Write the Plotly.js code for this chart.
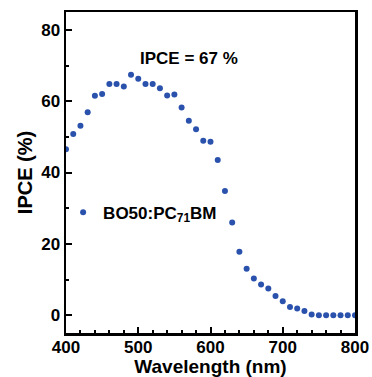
<!DOCTYPE html>
<html>
<head>
<meta charset="utf-8">
<script src="https://cdn.plot.ly/plotly-3.0.1.min.js"></script>
<style>
html,body{margin:0;padding:0;background:#fff;}
#chart{width:372px;height:377px;}
</style>
</head>
<body>
<div id="chart"></div>
<script>
var wavelength = [400,410,420,430,440,450,460,470,480,490,500,510,520,530,540,550,560,570,580,590,600,610,620,630,640,650,660,670,680,690,700,710,720,730,740,750,760,770,780,790,800];
var ipce = [46.5,50.8,53.1,56.9,61.5,62.0,64.8,64.8,64.1,67.4,66.3,64.8,64.8,63.6,61.6,61.9,58.2,54.5,52.1,48.9,48.6,43.5,34.8,26.0,17.8,13.0,10.3,8.6,7.5,5.4,3.9,2.3,1.9,1.2,0.2,0,0,0,0,0,0];
var seriesName = 'BO50:PC<sub>71</sub>BM';
var xTicks = [400,500,600,700,800];
var yTicks = [0,20,40,60,80];
var peakLabel = 'IPCE = 67 %';

var fontFam = '"Liberation Sans", Arial, Helvetica, sans-serif';

var trace = {
  x: wavelength, y: ipce, type: 'scatter', mode: 'markers', name: seriesName,
  marker: {color: '#2a52ad', size: 6}, showlegend: true
};

var axisCommon = {
  showline: true, linecolor: '#000', linewidth: 2.5, mirror: true,
  ticks: 'inside', ticklen: 6, tickwidth: 2, tickcolor: '#000',
  showgrid: false, zeroline: false,
  tickfont: {family: fontFam, size: 17, color: '#000', weight: 'bold'}
};

var layout = {
  width: 372, height: 377,
  margin: {l: 66, r: 17, t: 12, b: 44},
  paper_bgcolor: '#fff', plot_bgcolor: '#fff',
  xaxis: Object.assign({}, axisCommon, {
    range: [400, 800], tickvals: xTicks, ticktext: xTicks.map(String),
    ticklabelstandoff: -3,
    minor: {dtick: 20, ticks: 'inside', ticklen: 3, tickwidth: 2, tickcolor: '#000'},
    title: {text: 'Wavelength (nm)', font: {family: fontFam, size: 19, color: '#000', weight: 'bold'}, standoff: 5}
  }),
  yaxis: Object.assign({}, axisCommon, {
    range: [-5, 85], tickvals: yTicks, ticktext: yTicks.map(String),
    minor: {dtick: 10, ticks: 'inside', ticklen: 3, tickwidth: 2, tickcolor: '#000'},
    title: {text: 'IPCE (%)', font: {family: fontFam, size: 20, color: '#000', weight: 'bold'}, standoff: 3}
  }),
  legend: {
    x: -0.01, y: 0.375, xanchor: 'left', yanchor: 'middle',
    bgcolor: 'rgba(0,0,0,0)',
    font: {family: fontFam, size: 17, color: '#000', weight: 'bold'}
  },
  annotations: [{
    x: 570, y: 72, xref: 'x', yref: 'y', text: peakLabel, showarrow: false,
    font: {family: fontFam, size: 17, color: '#000', weight: 'bold'}
  }]
};

Plotly.newPlot('chart', [trace], layout, {displayModeBar: false, staticPlot: true});
</script>
</body>
</html>
